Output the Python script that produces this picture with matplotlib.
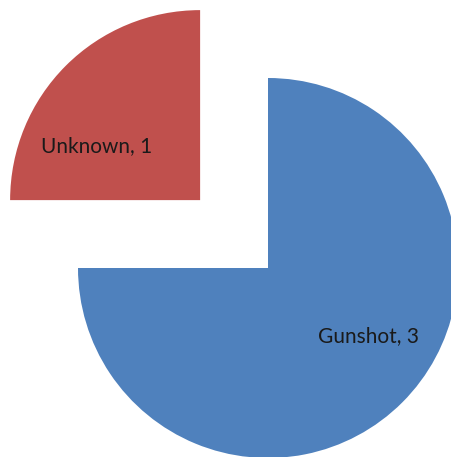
import matplotlib.pyplot as plt

labels = ["Gunshot", "Unknown"]
values = [3, 1]
colors = ["#4F81BD", "#C0504D"]

W, H = 451, 457

fig = plt.figure(figsize=(W / 100, H / 100), dpi=100)
ax = fig.add_axes([0, 0, 1, 1])

# explode is in data units here (pixels)
wedges, _ = ax.pie(values, colors=colors, startangle=90, counterclock=False,
                   center=(268, H - 268), radius=190, explode=[0, 96],
                   wedgeprops=dict(linewidth=0))
ax.set_xlim(0, W)
ax.set_ylim(0, H)
ax.set_aspect("equal")
ax.axis("off")

ax.text(368, H - 336, f"{labels[0]}, {values[0]}", ha="center", va="center",
        fontsize=15, family="Lato", color="#1a1a1a")
ax.text(97, H - 146, f"{labels[1]}, {values[1]}", ha="center", va="center",
        fontsize=15, family="Lato", color="#1a1a1a")

fig.savefig("out.png", dpi=100)
